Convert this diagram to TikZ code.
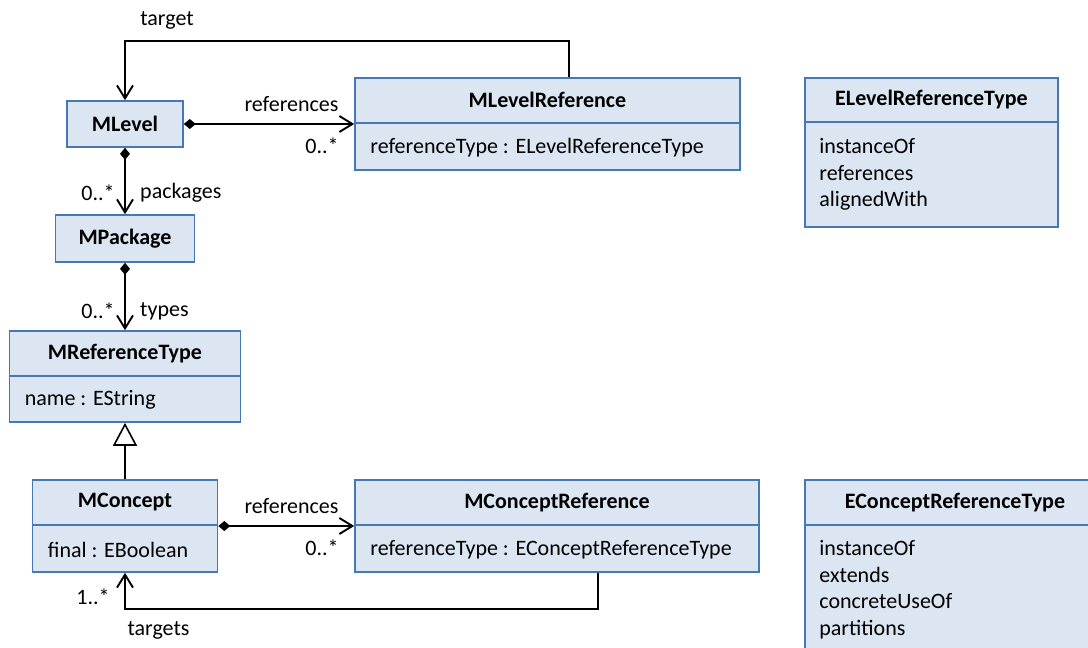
\documentclass[tikz,border=0pt]{standalone}
\usepackage{fontspec}
\setmainfont{Carlito}
\usepackage{tikz}
\usetikzlibrary{arrows.meta,positioning,calc}
\definecolor{umlfill}{HTML}{DCE6F2}
\definecolor{umlline}{HTML}{4578B4}
\newcommand{\umlfont}{\fontsize{22}{26.5}\selectfont}

\begin{document}
\begin{tikzpicture}[
    x=1pt, y=1pt,
    cls/.style={rectangle, draw=umlline, fill=umlfill, line width=1.6pt, inner sep=0pt},
    hdr/.style={font=\umlfont\bfseries, inner sep=0pt},
    attr/.style={font=\umlfont, inner sep=0pt, anchor=west},
    lit/.style={font=\umlfont, inner sep=0pt, anchor=north west, align=left},
    divider/.style={draw=umlline, line width=1.6pt},
    lbl/.style={font=\umlfont, inner sep=0pt},
    comp/.style={line width=1.9pt, {Diamond[length=12pt,width=10pt]}-{Straight Barb[length=13pt,width=16pt,line width=1.9pt]}},
    nav/.style={line width=1.9pt, -{Straight Barb[length=13pt,width=16pt,line width=1.9pt]}},
    gen/.style={line width=1.9pt, -{Triangle[open,fill=white,length=23pt,width=24pt,line width=1.6pt]}}
]
    \useasboundingbox (0,0) rectangle (1088,-648);
    \clip (0,0) rectangle (1088,-648);

    % Classes
    \node[cls, minimum width=116, minimum height=46] (mlevel) at (125,-124) {};
    \node[hdr] at (mlevel) {MLevel};

    \node[cls, minimum width=385, minimum height=92] (mlref) at (547.5,-124) {};
    \draw[divider] ([yshift=-46]mlref.north west) -- ([yshift=-46]mlref.north east);
    \node[hdr] at ([yshift=-23]mlref.north) {MLevelReference};
    \node[attr] at ([xshift=16,yshift=23]mlref.south west) {referenceType : ELevelReferenceType};

    \node[cls, minimum width=139, minimum height=47] (mpkg) at (125,-238.5) {};
    \node[hdr] at (mpkg) {MPackage};

    \node[cls, minimum width=231, minimum height=91] (mreftype) at (125,-376.5) {};
    \draw[divider] ([yshift=-46]mreftype.north west) -- ([yshift=-46]mreftype.north east);
    \node[hdr] at ([yshift=-23]mreftype.north) {MReferenceType};
    \node[attr] at ([xshift=16,yshift=23]mreftype.south west) {name : EString};

    \node[cls, minimum width=185, minimum height=92] (mconcept) at (125,-526) {};
    \draw[divider] ([yshift=-46]mconcept.north west) -- ([yshift=-46]mconcept.north east);
    \node[hdr] at ([yshift=-23]mconcept.north) {MConcept};
    \node[attr] at ([xshift=16,yshift=23]mconcept.south west) {final : EBoolean};

    \node[cls, minimum width=404, minimum height=92] (mcref) at (557,-526) {};
    \draw[divider] ([yshift=-46]mcref.north west) -- ([yshift=-46]mcref.north east);
    \node[hdr] at ([yshift=-23]mcref.north) {MConceptReference};
    \node[attr] at ([xshift=16,yshift=23]mcref.south west) {referenceType : EConceptReferenceType};

    % Enumerations
    \node[cls, minimum width=253, minimum height=149] (elevel) at (931.5,-152.5) {};
    \draw[divider] ([yshift=-45]elevel.north west) -- ([yshift=-45]elevel.north east);
    \node[hdr] at ([yshift=-22.5]elevel.north) {ELevelReferenceType};
    \node[lit] at ([xshift=15,yshift=-61]elevel.north west) {instanceOf\\references\\alignedWith};

    \node[cls, minimum width=300, minimum height=200] (econcept) at (955,-580) {};
    \draw[divider] ([yshift=-46]econcept.north west) -- ([yshift=-46]econcept.north east);
    \node[hdr] at ([yshift=-23]econcept.north) {EConceptReferenceType};
    \node[lit] at ([xshift=15,yshift=-61]econcept.north west) {instanceOf\\extends\\concreteUseOf\\partitions};

    % Connectors
    \draw[nav] ([xshift=21.5]mlref.north) -- ++(0,36) -| (mlevel.north);
    \draw[comp] (mlevel.east) -- (mlref.west);
    \draw[comp] (mlevel.south) -- (mpkg.north);
    \draw[comp] (mpkg.south) -- (mreftype.north);
    \draw[gen] (mconcept.north) -- (mreftype.south);
    \draw[comp] (mconcept.east) -- (mcref.west);
    \draw[nav] ([xshift=41]mcref.south) -- ++(0,-36) -| (mconcept.south);

    % Labels
    \node[lbl] at (167,-20) {target};
    \node[lbl] at (291.5,-104) {references};
    \node[lbl] at (322,-146) {0..*};
    \node[lbl] at (98,-193) {0..*};
    \node[lbl, anchor=west] at (140,-193) {packages};
    \node[lbl] at (98,-311) {0..*};
    \node[lbl, anchor=west] at (140,-311) {types};
    \node[lbl] at (291.5,-506) {references};
    \node[lbl] at (322,-548) {0..*};
    \node[lbl] at (93,-597) {1..*};
    \node[lbl] at (158.5,-630) {targets};
\end{tikzpicture}
\end{document}
